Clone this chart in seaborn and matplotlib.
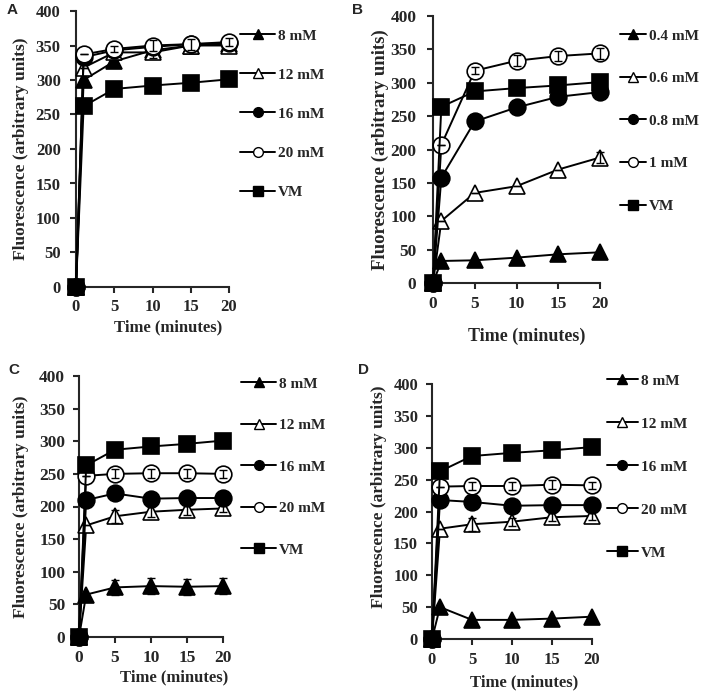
import numpy as np
import pandas as pd
import matplotlib
matplotlib.use("Agg")
import matplotlib.pyplot as plt
from matplotlib.lines import Line2D
import seaborn as sns

# time points (minutes)
time = [0, 1, 5, 10, 15, 20]

# Panel A
a_labels = ["8 mM", "12 mM", "16 mM", "20 mM", "VM"]
a_8 = [0, 300, 327, 343, 350, 352]
a_12 = [0, 318, 340, 340, 350, 350]
a_16 = [0, 333, 343, 348, 352, 353]
a_20 = [0, 337, 345, 350, 352, 355]
a_vm = [0, 262, 287, 292, 296, 301]
a_err = [[0, 0, 0, 0, 0, 0], [0, 0, 0, 8, 0, 0], [0, 0, 0, 0, 0, 0],
         [0, 0, 5, 8, 8, 6], [0, 0, 0, 0, 0, 0]]

# Panel B
b_labels = ["0.4 mM", "0.6 mM", "0.8 mM", "1 mM", "VM"]
b_04 = [0, 33, 34, 38, 43, 46]
b_06 = [0, 93, 135, 145, 170, 188]
b_08 = [0, 158, 242, 263, 279, 286]
b_1 = [0, 207, 318, 333, 340, 344]
b_vm = [0, 264, 287, 292, 296, 301]
b_err = [[0, 0, 0, 0, 0, 0], [0, 0, 0, 0, 0, 8], [0, 0, 0, 0, 0, 0],
         [0, 0, 5, 8, 8, 8], [0, 0, 0, 0, 0, 0]]

# Panel C
c_labels = ["8 mM", "12 mM", "16 mM", "20 mM", "VM"]
c_8 = [0, 65, 76, 78, 77, 78]
c_12 = [0, 171, 185, 192, 195, 197]
c_16 = [0, 210, 220, 212, 213, 213]
c_20 = [0, 247, 250, 251, 251, 250]
c_vm = [0, 263, 287, 292, 296, 301]
c_err = [[0, 0, 12, 12, 12, 12], [0, 0, 10, 8, 8, 6], [0, 0, 0, 0, 0, 0],
         [0, 0, 7, 7, 7, 6], [0, 0, 0, 0, 0, 0]]

# Panel D
d_labels = ["8 mM", "12 mM", "16 mM", "20 mM", "VM"]
d_8 = [0, 50, 30, 30, 32, 35]
d_12 = [0, 173, 180, 184, 191, 193]
d_16 = [0, 218, 215, 209, 210, 210]
d_20 = [0, 239, 240, 240, 242, 241]
d_vm = [0, 263, 287, 292, 296, 301]
d_err = [[0, 0, 0, 0, 0, 0], [0, 0, 10, 6, 6, 6], [0, 0, 0, 0, 0, 0],
         [0, 0, 7, 7, 7, 6], [0, 0, 0, 0, 0, 0]]

sns.set_style("ticks")
plt.rcParams["font.family"] = ["Liberation Serif", "DejaVu Serif"]
plt.rcParams["font.weight"] = "bold"
plt.rcParams["axes.labelweight"] = "bold"

# marker style per series position: (marker, facecolor, size)
styles = [("^", "black", 12), ("^", "white", 12), ("o", "black", 12),
          ("o", "white", 12), ("s", "black", 12)]

fig = plt.figure(figsize=(7.11, 6.95), dpi=100)
W, H = 711, 695


def px_axes(l, r, t, b):
    return fig.add_axes([l / W, 1 - b / H, (r - l) / W, (b - t) / H])


panels = [
    dict(ax=px_axes(76, 229, 11, 287), labels=a_labels,
         series=[a_8, a_12, a_16, a_20, a_vm], err=a_err, letter="A", lpos=(7, 10),
         ylab=(-0.307, 0.5, 12.5), xlab=(0.60, -0.116, 12),
         leg=(240, 29, 11, 1.66, 2.3), tick=12, ypad=7),
    dict(ax=px_axes(433, 600, 16, 283), labels=b_labels,
         series=[b_04, b_06, b_08, b_1, b_vm], err=b_err, letter="B", lpos=(352, 10),
         ylab=(-0.263, 0.5, 13.5), xlab=(0.563, -0.169, 13),
         leg=(620, 29, 11, 1.89, 1.7), tick=12.5, ypad=8),
    dict(ax=px_axes(79, 223, 376, 637), labels=c_labels,
         series=[c_8, c_12, c_16, c_20, c_vm], err=c_err, letter="C", lpos=(8, 370),
         ylab=(-0.347, 0.5, 12.5), xlab=(0.66, -0.123, 12),
         leg=(241, 377, 11, 1.82, 2.3), tick=12.5, ypad=6),
    dict(ax=px_axes(432, 592, 384, 639), labels=d_labels,
         series=[d_8, d_12, d_16, d_20, d_vm], err=d_err, letter="D", lpos=(358, 370),
         ylab=(-0.281, 0.557, 12.5), xlab=(0.575, -0.137, 12),
         leg=(607, 374, 11, 1.92, 2.0), tick=12, ypad=6),
]

for p in panels:
    ax = p["ax"]
    for i, (vals, lab) in enumerate(zip(p["series"], p["labels"])):
        m, fc, ms = styles[i]
        df = pd.DataFrame({"time": time, "value": vals})
        sns.lineplot(data=df, x="time", y="value", ax=ax, color="black",
                     linewidth=1.4, marker=m, markersize=ms,
                     markerfacecolor=fc, markeredgecolor="black",
                     markeredgewidth=1.2, clip_on=False, zorder=3 + i)
        err = np.array(p["err"][i])
        if err.any():
            ax.errorbar(time, vals, yerr=err, fmt="none", ecolor="black",
                        elinewidth=1.0, capsize=3, capthick=1.0,
                        clip_on=False, zorder=3 + i)
    ax.set_xlim(0, 20)
    ax.set_ylim(0, 400)
    ax.set_xticks([0, 5, 10, 15, 20])
    ax.set_yticks(range(0, 401, 50))
    for s in ["top", "right"]:
        ax.spines[s].set_visible(False)
    for s in ["left", "bottom"]:
        ax.spines[s].set_linewidth(1.5)
    ax.tick_params(axis="both", direction="out", length=4, width=1.5,
                   labelsize=p["tick"])
    ax.tick_params(axis="y", pad=p["ypad"])
    ax.tick_params(axis="x", pad=5)
    for t in ax.get_xticklabels() + ax.get_yticklabels():
        t.set_fontweight("bold")
    yx, yy, ys = p["ylab"]
    ax.set_ylabel("Fluorescence (arbitrary units)", fontsize=ys, fontweight="bold")
    ax.yaxis.set_label_coords(yx, yy)
    xx, xy, xs = p["xlab"]
    ax.set_xlabel("Time (minutes)", fontsize=xs, fontweight="bold")
    ax.xaxis.set_label_coords(xx, xy)

    handles = [Line2D([], [], color="black", lw=1.4, marker=st[0], markersize=7,
                      markerfacecolor=st[1], markeredgecolor="black",
                      markeredgewidth=1.0) for st in styles]
    lx, ly, lfs, lsp, hl = p["leg"]
    ax.legend(handles, p["labels"], loc="upper left",
              bbox_to_anchor=(lx / W, 1 - ly / H), bbox_transform=fig.transFigure,
              frameon=False, borderpad=0, borderaxespad=0, handlelength=hl,
              handletextpad=0.2, labelspacing=lsp,
              prop={"family": "Liberation Serif", "weight": "bold", "size": lfs})

    lxp, lyp = p["lpos"]
    fig.text(lxp / W, 1 - lyp / H, p["letter"], ha="left", va="center",
             fontsize=11, fontweight="bold", family="Liberation Sans")

fig.savefig("out.png", dpi=100)
